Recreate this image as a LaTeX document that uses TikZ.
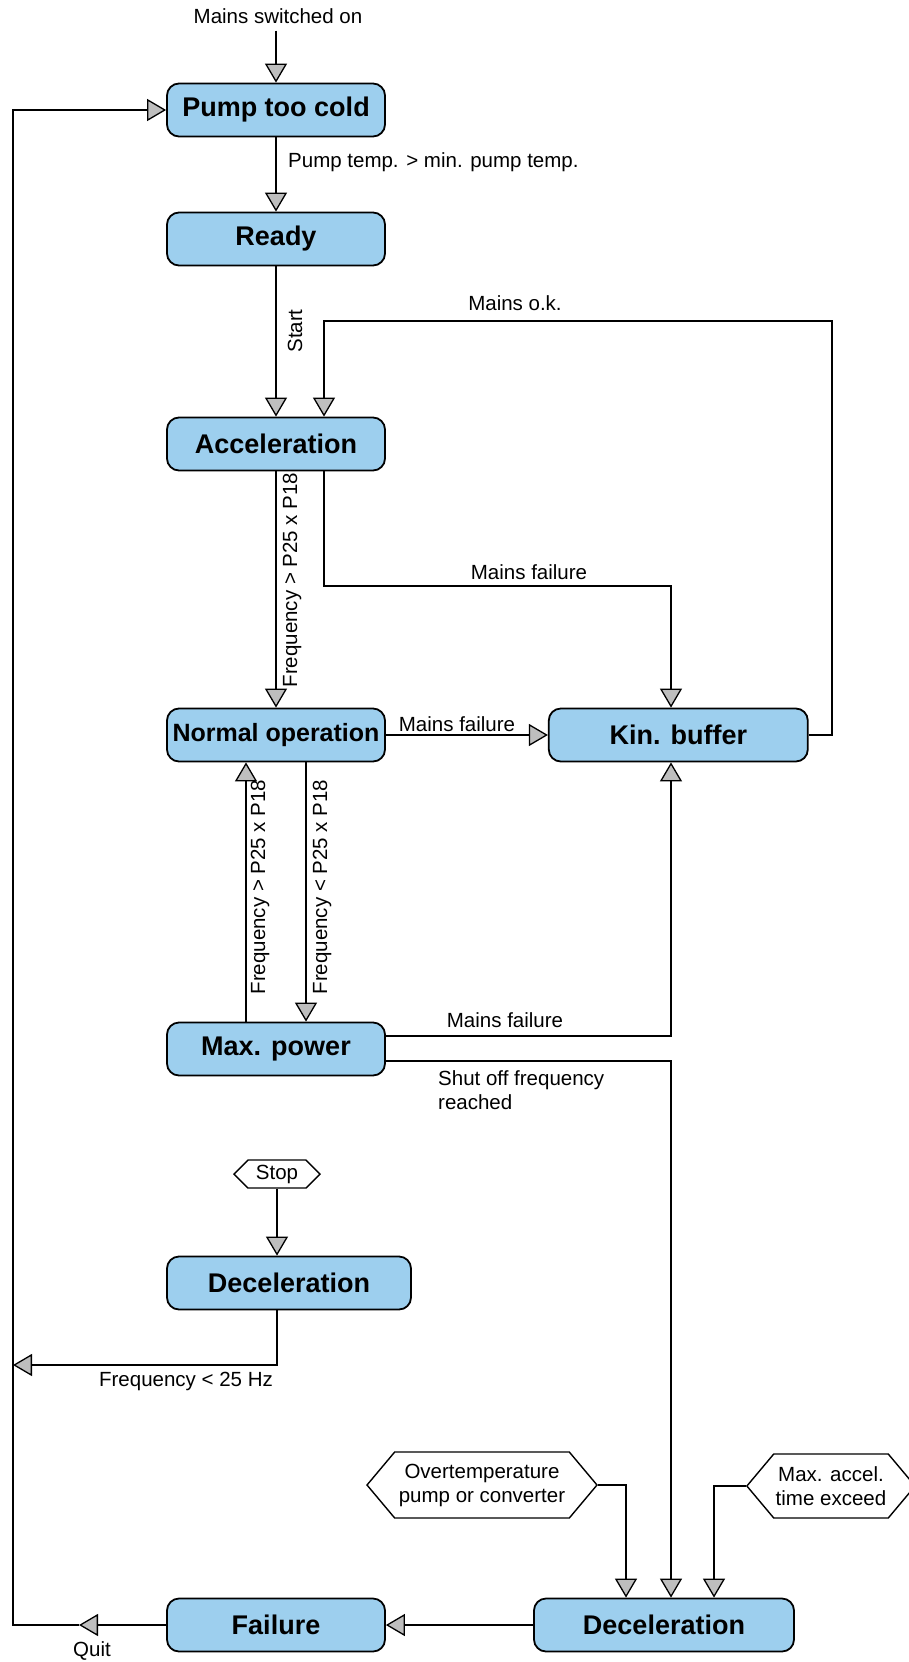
\documentclass[tikz,border=0pt]{standalone}
\usepackage{fontspec}
\setmainfont{Liberation Sans}
\usetikzlibrary{positioning,arrows.meta,shapes.symbols}
\definecolor{stblue}{HTML}{9DCFEE}
\definecolor{tipgray}{HTML}{BEBEBE}

\begin{document}
\begin{tikzpicture}[
  x=1pt, y=-1pt,
  state/.style={draw=black, line width=1.8pt, rounded corners=12pt, fill=stblue, minimum width=218pt, minimum height=53pt, inner sep=0pt, font=\fontsize{27pt}{30pt}\selectfont\bfseries},
  cond/.style={draw=black, line width=1.4pt, shape=signal, signal to=west and east, signal pointer angle=100, fill=white, inner sep=2pt, align=center, font=\fontsize{20.5pt}{24pt}\selectfont},
  lbl/.style={inner sep=0pt, align=left, font=\fontsize{20.5pt}{24pt}\selectfont},
  arr/.style={-{Triangle[length=19pt,width=22pt,fill=tipgray,line width=1.3pt]}, line width=1.5pt}
]
\useasboundingbox (0,0) rectangle (908,1662);
% states
\node[state] (pump) at (276,110) {Pump too cold};
\node[state] (ready) at (276,239) {Ready};
\node[state] (acc) at (276,444) {Acceleration};
\node[state, font=\fontsize{25pt}{28pt}\selectfont\bfseries] (norm) at (276,735) {Normal operation};
\node[state, minimum width=259pt, right=162pt of norm] (kin) {Kin. buffer};
\node[state] (maxp) at (276,1049) {Max. power};
\node[state, minimum width=244pt] (dec1) at (289,1283) {Deceleration};
\node[state] (fail) at (276,1625) {Failure};
\node[state, minimum width=260pt] (dec2) at (664,1625) {Deceleration};
% events
\node[lbl, inner ysep=7pt] (on) at (278,16) {Mains switched on};
\node[cond, signal pointer angle=90, minimum width=86pt, minimum height=28pt] (stop) at (277,1174) {Stop};
\node[cond, minimum width=230pt, minimum height=66pt] (overt) at (482,1485) {Overtemperature\\pump or converter};
\node[cond, minimum width=161pt, minimum height=64pt] (maxacc) at (831,1486) {Max. accel.\\time exceed};
% bends and line positions
\coordinate (ok) at (832,321);
\coordinate (mf) at (671,586);
\coordinate (ax) at (324,0);
\coordinate (kx) at (671,0);
\coordinate (dn) at (306,0);
\coordinate (up) at (246,0);
\coordinate (ox) at (626,0);
\coordinate (mx) at (714,0);
\coordinate (dl) at (13,1365);
\coordinate (qt) at (79,1625);
\coordinate (ql) at (13,1625);
% transitions
\draw[arr] (pump.north |- on.south) -- (pump);
\draw[arr] (pump) -- (ready);
\draw[arr] (ready) -- (acc);
\draw[arr] (acc) -- (norm);
\draw[arr] (norm) -- (kin);
\draw[arr] (kin.east) -| (ok) -| (acc.north -| ax);
\draw[arr] (acc.south -| ax) |- (mf) -- (kin.north -| mf);
\draw[arr] (norm.south -| dn) -- (maxp.north -| dn);
\draw[arr] (maxp.north -| up) -- (norm.south -| up);
\draw[arr] ([yshift=13pt]maxp.east) -| (kin.south -| kx);
\draw[arr] ([yshift=-12pt]maxp.east) -| (dec2.north -| kx);
\draw[arr] (stop.south) -- (dec1.north -| stop.south);
\draw[arr] (dec1.south -| stop.south) |- (dl);
\draw[arr] (overt.east) -| (dec2.north -| ox);
\draw[arr] (maxacc.west) -| (dec2.north -| mx);
\draw[arr] (dec2) -- (fail);
\draw[arr] (fail) -- (qt);
\draw[arr] (qt) -- (ql) |- (pump.west);
% conditions
\node[lbl, anchor=west] at (288,162) {Pump temp. > min. pump temp.};
\node[lbl, rotate=90] at (295,331) {Start};
\node[lbl] at (515,303) {Mains o.k.};
\node[lbl, rotate=90] at (292,580) {Frequency > P25 x P18};
\node[lbl] at (529,572) {Mains failure};
\node[lbl] at (457,724) {Mains failure};
\node[lbl] at (505,1020) {Mains failure};
\node[lbl, rotate=90] at (260,887) {Frequency > P25 x P18};
\node[lbl, rotate=90] at (322,887) {Frequency < P25 x P18};
\node[lbl, anchor=north west] at (438,1070) {Shut off frequency\\reached};
\node[lbl] at (186,1381) {Frequency < 25 Hz};
\node[lbl] at (92,1651) {Quit};
\end{tikzpicture}
\end{document}
